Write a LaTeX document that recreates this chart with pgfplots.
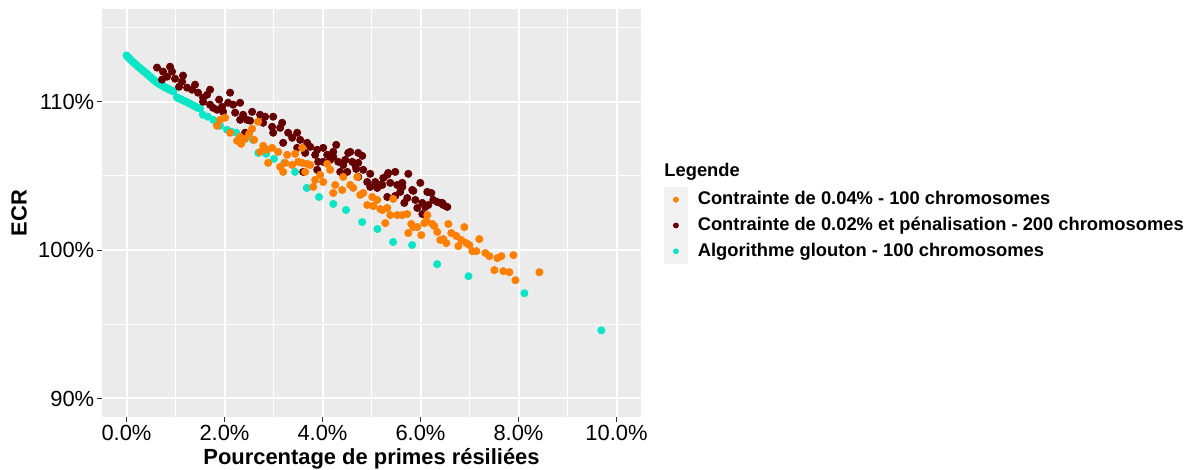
\documentclass[border=0pt]{standalone}
\usepackage{fontspec}
\setmainfont{Liberation Sans}
\usepackage{pgfplots}
\pgfplotsset{compat=1.18}
\definecolor{panel}{HTML}{EBEBEB}
\definecolor{keybg}{HTML}{F2F2F2}
\definecolor{corange}{HTML}{FF7F00}
\definecolor{cdred}{HTML}{660000}
\definecolor{ccyan}{HTML}{0CE6C6}
\definecolor{tickc}{HTML}{333333}
\begin{document}
\begin{tikzpicture}
\path[use as bounding box] (0bp,0bp) rectangle (596bp,235bp);
\begin{axis}[
  at={(51bp,26.5bp)}, anchor=south west,
  scale only axis, width=269.5bp, height=204bp,
  xmin=-0.5, xmax=10.5, ymin=88.75, ymax=116.25,
  axis background/.style={fill=panel},
  axis line style={draw=none},
  xtick={0,2,4,6,8,10}, xticklabels={0.0\%,2.0\%,4.0\%,6.0\%,8.0\%,10.0\%},
  ytick={90,100,110}, yticklabels={90\%,100\%,110\%},
  minor xtick={1,3,5,7,9}, minor ytick={95,105,115},
  grid=both,
  major grid style={white, line width=1bp},
  minor grid style={white, line width=0.55bp},
  tick align=outside, major tick length=2.5bp, minor tick length=0pt,
  xtick pos=bottom, ytick pos=left,
  tick style={tickc, line width=0.55bp},
  tick label style={font=\fontsize{11}{13}\selectfont, inner sep=0pt, text=black},
  xticklabel shift=1.5bp, yticklabel shift=1.2bp,
  xlabel={Pourcentage de primes résiliées}, ylabel={ECR},
  label style={font=\bfseries\fontsize{11}{13}\selectfont},
  xlabel style={at={(axis description cs:0.5,-0.1176)}, anchor=base},
  ylabel style={at={(axis description cs:-0.154,0.5)}, anchor=center},
  legend style={at={(axis description cs:1.0427,0.4694)}, anchor=west, draw=none, fill=none,
    inner sep=0pt, outer sep=0pt, row sep=0pt,
    font=\bfseries\fontsize{9.2}{11}\selectfont, nodes={inner sep=0pt}},
  legend cell align=left,
]
\addplot[only marks, mark=*, color=ccyan, mark size=1.8bp, mark options={draw=none, fill=ccyan}, forget plot] coordinates {
(0.00,113.12)(0.03,113.00)(0.06,112.92)(0.09,112.80)(0.12,112.72)(0.15,112.62)(0.18,112.55)(0.21,112.45)(0.24,112.36)(0.27,112.28)(0.30,112.20)(0.33,112.11)(0.36,112.03)(0.39,111.95)(0.42,111.86)(0.45,111.78)(0.48,111.69)(0.51,111.60)(0.54,111.51)(0.57,111.43)(0.60,111.36)(0.63,111.28)(0.66,111.22)(0.69,111.15)(0.72,111.10)(0.75,111.04)(0.78,110.98)(0.81,110.94)(0.84,110.88)(0.87,110.83)(0.90,110.78)(0.93,110.74)(0.96,110.70)
(1.03,110.29)(1.07,110.22)(1.11,110.17)(1.15,110.10)(1.19,110.04)(1.23,109.98)(1.27,109.91)(1.31,109.84)(1.35,109.77)(1.39,109.70)(1.43,109.63)(1.47,109.57)(1.50,109.53)
(1.56,109.12)(1.66,108.99)(1.77,108.78)(1.84,108.55)(1.91,108.38)(2.05,108.11)(2.14,107.98)(2.24,107.91)(2.40,107.70)(2.58,107.43)(2.69,106.55)(2.85,106.49)(3.01,106.15)(3.22,105.88)(3.44,105.27)(3.68,104.19)(3.93,103.58)(4.22,103.11)(4.48,102.70)(4.81,101.89)(5.12,101.42)(5.44,100.54)(5.83,100.34)(6.34,99.05)(6.98,98.24)(8.12,97.09)(9.69,94.59)
};
\addplot[only marks, mark=*, color=cdred, mark size=1.8bp, mark options={draw=none, fill=cdred}, forget plot] coordinates {
(0.623,112.30)(0.746,112.03)(0.889,112.36)(0.930,112.03)(0.725,111.49)(0.827,111.69)(0.991,111.55)(1.154,111.76)(1.134,111.35)(1.073,111.01)(1.236,110.95)(1.338,110.81)(1.399,111.15)(1.461,110.61)(1.563,110.27)(1.645,110.47)(1.706,110.81)(1.563,110.00)(1.706,109.80)(1.767,109.59)(1.890,110.14)(1.849,109.46)(1.951,109.66)(1.971,109.32)(2.114,110.61)(2.074,109.93)(2.176,109.80)(2.319,109.93)(2.217,109.26)(2.380,109.12)(2.462,108.78)(2.421,107.91)(2.564,109.32)(2.319,108.78)(2.523,108.72)(2.727,109.12)(2.829,108.99)(2.993,108.99)(2.789,108.58)(2.972,108.31)(3.177,108.58)(3.136,108.24)(2.993,107.91)(3.299,107.91)(3.483,107.91)(3.381,107.57)(3.197,107.23)(3.544,107.43)(3.687,107.23)(3.749,106.96)(3.483,106.89)(3.647,106.55)(3.892,106.76)(4.014,106.89)(4.280,107.09)(3.851,106.42)(4.096,106.42)(4.219,106.28)(4.014,105.95)(4.157,106.08)(4.321,105.95)(4.525,106.55)(4.464,106.08)(4.607,105.95)(4.729,106.55)(4.423,105.74)(4.668,105.74)(3.892,105.41)(3.606,105.27)(3.912,105.95)(4.219,106.62)(4.566,106.62)(4.811,106.35)(4.729,105.88)(4.362,105.27)(4.505,105.27)(4.688,105.47)(4.831,105.41)(4.729,104.93)(4.974,105.14)(4.913,104.59)(5.077,104.59)(4.974,104.26)(5.117,104.19)(5.179,104.39)(5.240,104.86)(5.342,105.20)(5.485,105.27)(5.383,104.53)(5.526,104.39)(5.751,105.14)(5.628,104.26)(5.832,104.05)(5.996,104.53)(5.322,103.58)(5.485,103.65)(5.730,103.51)(5.894,103.38)(6.139,103.92)(6.261,103.38)(5.935,102.84)(6.098,102.91)(6.445,103.18)(6.547,102.91)(5.322,105.07)(5.220,104.39)(5.628,104.53)(5.587,103.92)(5.853,103.99)(6.221,103.85)(5.669,103.18)(6.037,103.18)(6.343,103.24)(6.404,103.18)(6.466,103.04)(6.037,102.43)(6.159,103.04)
};
\addplot[only marks, mark=*, color=corange, mark size=1.8bp, mark options={draw=none, fill=corange}, forget plot] coordinates {
(2.012,108.92)(1.910,108.78)(1.849,108.38)(2.114,107.91)(2.319,107.64)(2.257,107.36)(2.686,108.65)(2.564,108.18)(2.503,107.84)(2.421,107.50)(2.339,107.16)(2.605,107.43)(2.789,107.03)(2.972,106.89)(2.727,106.62)(2.870,106.76)(3.095,106.62)(2.891,105.88)(3.279,106.42)(3.442,106.49)(3.585,106.89)(3.238,105.88)(3.381,105.74)(3.136,105.61)(3.197,105.27)(3.504,105.95)(3.585,105.88)(3.687,105.81)(3.749,105.74)(3.647,105.27)(4.096,105.81)(4.157,105.41)(3.953,105.07)(3.851,104.73)(4.014,104.59)(3.810,104.26)(4.259,104.39)(4.423,104.93)(4.566,104.39)(4.709,104.93)(4.219,103.85)(4.402,104.05)(4.627,104.19)(4.770,103.72)(4.831,103.85)(4.913,103.04)(5.036,102.97)(5.015,103.58)(5.117,103.38)(5.179,102.77)(5.322,102.84)(5.444,103.45)(5.383,102.36)(5.526,102.36)(5.628,102.36)(5.730,102.43)(6.139,102.36)(5.281,101.82)(5.220,102.70)(5.812,101.76)(5.853,101.55)(5.935,101.55)(5.751,101.15)(6.016,101.01)(6.078,101.82)(6.118,101.96)(6.241,101.76)(6.282,101.62)(6.343,101.22)(6.568,101.76)(6.895,101.55)(6.629,101.15)(6.731,100.95)(6.404,100.68)(6.466,100.74)(6.527,100.47)(6.833,100.68)(6.936,100.47)(6.997,100.34)(6.772,100.27)(7.201,100.74)(7.058,99.93)(7.140,99.93)(7.324,99.80)(7.405,99.59)(7.569,99.46)(7.651,99.59)(7.896,99.66)(7.508,98.65)(7.691,98.58)(7.814,98.51)(7.937,97.97)(8.427,98.51)
};
\addlegendimage{legend image code/.code={\fill[keybg] (0bp,-6.25bp) rectangle (11.5bp,6.25bp); \fill[corange] (5.75bp,0bp) circle[radius=1.25bp]; \path (16.5bp,0bp);}}
\addlegendentry{Contrainte de 0.04\% - 100 chromosomes}
\addlegendimage{legend image code/.code={\fill[keybg] (0bp,-6.25bp) rectangle (11.5bp,6.25bp); \fill[cdred] (5.75bp,0bp) circle[radius=1.25bp]; \path (16.5bp,0bp);}}
\addlegendentry{Contrainte de 0.02\% et pénalisation - 200 chromosomes}
\addlegendimage{legend image code/.code={\fill[keybg] (0bp,-6.25bp) rectangle (11.5bp,6.25bp); \fill[ccyan] (5.75bp,0bp) circle[radius=1.25bp]; \path (16.5bp,0bp);}}
\addlegendentry{Algorithme glouton - 100 chromosomes}
\end{axis}
\node[anchor=west, inner sep=0pt, font=\bfseries\fontsize{9.2}{11}\selectfont] at (332bp,149bp) {Legende};
\end{tikzpicture}
\end{document}
